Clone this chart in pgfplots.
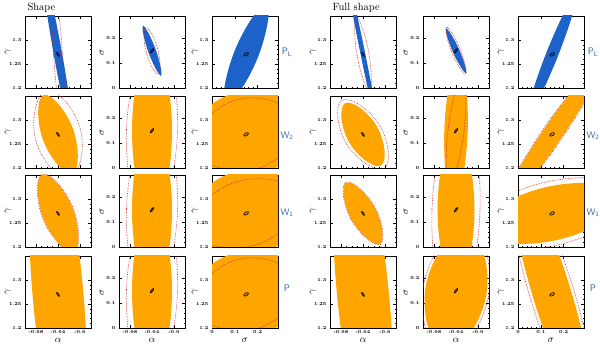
\documentclass[border=0pt]{standalone}
\usepackage{pgfplots}
\pgfplotsset{compat=1.18}
\usepackage{pgfplotstable}
\definecolor{pblue}{RGB}{28,98,200}
\definecolor{porange}{RGB}{255,165,0}
\definecolor{pred}{RGB}{205,40,40}
\definecolor{lblue}{RGB}{45,100,160}

% ellipses are given by 4 points: c+u, c+v, c-u, c-v (u, v conjugate semi-axes)
\pgfplotstableread{
x y
-0.642399 1.273925
-0.641191 1.269044
-0.637601 1.266075
-0.638809 1.270956
}\blkag
\pgfplotstableread{
x y
-0.637393 0.158249
-0.641191 0.151848
-0.642607 0.141751
-0.638809 0.148152
}\blkas
\pgfplotstableread{
x y
0.159894 1.272708
0.147144 1.272345
0.140106 1.267292
0.152856 1.267655
}\blksg
\pgfplotstableread{
x y
-0.64 0.5125
-0.676364 0.15
-0.64 -0.2125
-0.603636 0.15
}\oras
\pgfplotstableread{
x y
-0.633655 0.552532
-0.686335 0.153585
-0.646345 -0.252532
-0.593665 0.146415
}\redas
\pgfplotstableread{
x y
0.425871 1.305046
0.101104 1.356529
-0.125871 1.234954
0.198896 1.183471
}\orsg
\pgfplotstableread{
x y
0.379178 1.299114
0.109062 1.342441
-0.079178 1.240886
0.190938 1.197559
}\redsg

\pgfplotsset{
  panel/.style={width=66pt, height=72pt, scale only axis, anchor=south west,
    axis line style={line width=0.8pt}, tick align=inside,
    major tick length=2.6pt, minor tick length=1.4pt,
    every tick/.style={black, line width=0.5pt},
    ticklabel style={font=\fontsize{4.6}{5.5}\selectfont\bfseries},
    xticklabel style={yshift=1pt},
    /pgf/number format/assume math mode=true,
    label style={font=\fontsize{7.5}{8}\selectfont\boldmath},
    every axis y label/.style={at={(rel axis cs:0,0.5)}, xshift=-17pt, rotate=90, anchor=center},
    every axis x label/.style={at={(rel axis cs:0.5,0)}, yshift=-12pt, anchor=center}},
  ag/.style={xmin=-0.70, xmax=-0.58, ymin=1.2, ymax=1.35,
    xtick={-0.68,-0.64,-0.6}, minor x tick num=3,
    ytick={1.2,1.25,1.3}, minor y tick num=4, ylabel={$\gamma$}, xlabel={$\alpha$}},
  as/.style={xmin=-0.70, xmax=-0.58, ymin=0, ymax=0.29,
    xtick={-0.68,-0.64,-0.6}, minor x tick num=3,
    ytick={0,0.1,0.2}, minor y tick num=4, ylabel={$\sigma$}, xlabel={$\alpha$}},
  sg/.style={xmin=0, xmax=0.29, ymin=1.2, ymax=1.35,
    xtick={0,0.1,0.2}, minor x tick num=4,
    ytick={1.2,1.25,1.3}, minor y tick num=4, ylabel={$\gamma$}, xlabel={$\sigma$}},
  nox/.style={xticklabels={}, xlabel={}},
  fB/.style={fill=pblue, draw=none, smooth cycle, tension=0.83},
  fO/.style={fill=porange, draw=none, smooth cycle, tension=0.83},
  rD/.style={draw=pred, densely dotted, line width=0.65pt, smooth cycle, tension=0.83},
  bk/.style={draw=black, line width=0.7pt, smooth cycle, tension=0.83},
}

\begin{document}
\begin{tikzpicture}
\useasboundingbox (0,0) rectangle (600pt,343pt);
\node[anchor=base west, font=\fontsize{10.5}{11}\selectfont] at (24pt,332pt) {Shape};
\node[anchor=base west, font=\fontsize{10.5}{11}\selectfont] at (329pt,332pt) {Full shape};
\foreach \xx in {287pt,593pt} {
  \node[font=\sffamily\fontsize{9.5}{10}\selectfont, text=lblue] at (\xx,291pt) {P\textsubscript{L}};
  \node[font=\sffamily\fontsize{9.5}{10}\selectfont, text=lblue] at (\xx,207pt) {W\textsubscript{2}};
  \node[font=\sffamily\fontsize{9.5}{10}\selectfont, text=lblue] at (\xx,130pt) {W\textsubscript{1}};
  \node[font=\sffamily\fontsize{9.5}{10}\selectfont, text=lblue] at (\xx,55pt) {P};
}

% ---------------- Shape, row P_L
\begin{axis}[panel, ag, nox, at={(25pt,255pt)}]
\addplot[fB] coordinates {(-0.672200,1.475040) (-0.647516,1.268450) (-0.607800,1.064960) (-0.632484,1.271550)};
\addplot[rD] coordinates {(-0.650150,1.436250) (-0.648160,1.269350) (-0.629850,1.103750) (-0.631840,1.270650)};
\addplot[bk] table {\blkag};
\end{axis}
\begin{axis}[panel, as, nox, at={(119pt,255pt)}]
\addplot[fB] coordinates {(-0.656382,0.250808) (-0.646672,0.144680) (-0.623618,0.049192) (-0.633328,0.155320)};
\addplot[rD] coordinates {(-0.651295,0.243373) (-0.650538,0.143745) (-0.628705,0.056627) (-0.629462,0.156255)};
\addplot[bk] table {\blkas};
\end{axis}
\begin{axis}[panel, sg, nox, at={(212pt,255pt)}]
\addplot[fB] coordinates {(0.241305,1.376083) (0.101179,1.279446) (0.058695,1.163917) (0.198821,1.260554)};
\addplot[bk] table {\blksg};
\end{axis}

% ---------------- Shape, row W_2
\begin{axis}[panel, ag, nox, at={(25pt,175pt)}]
\addplot[fO] coordinates {(-0.666117,1.352223) (-0.667336,1.258600) (-0.613883,1.187777) (-0.612664,1.281400)};
\addplot[rD] coordinates {(-0.661177,1.360552) (-0.680393,1.257598) (-0.618823,1.179448) (-0.599607,1.282402)};
\addplot[bk] table {\blkag};
\end{axis}
\begin{axis}[panel, as, nox, at={(119pt,175pt)}]
\addplot[fO] table {\oras};
\addplot[rD] table {\redas};
\addplot[bk] table {\blkas};
\end{axis}
\begin{axis}[panel, sg, nox, at={(212pt,175pt)}]
\addplot[fO] table {\orsg};
\addplot[rD] table {\redsg};
\addplot[bk] table {\blksg};
\end{axis}

% ---------------- Shape, row W_1
\begin{axis}[panel, ag, nox, at={(25pt,96pt)}]
\addplot[fO] coordinates {(-0.668606,1.351129) (-0.666131,1.257904) (-0.611394,1.188871) (-0.613869,1.282096)};
\addplot[rD] coordinates {(-0.668947,1.352096) (-0.666973,1.257513) (-0.611053,1.187904) (-0.613027,1.282487)};
\addplot[bk] table {\blkag};
\end{axis}
\begin{axis}[panel, as, nox, at={(119pt,96pt)}]
\addplot[fO] table {\oras};
\addplot[rD] table {\redas};
\addplot[bk] table {\blkas};
\end{axis}
\begin{axis}[panel, sg, nox, at={(212pt,96pt)}]
\addplot[fO] table {\orsg};
\addplot[rD] coordinates {(0.393708,1.305331) (0.107603,1.335746) (-0.093708,1.234669) (0.192397,1.204254)};
\addplot[bk] table {\blksg};
\end{axis}

% ---------------- Shape, row P
\begin{axis}[panel, ag, at={(25pt,15pt)}]
\addplot[fO] coordinates {(-0.671695,1.685080) (-0.686006,1.265388) (-0.608305,0.854920) (-0.593994,1.274612)};
\addplot[bk] table {\blkag};
\end{axis}
\begin{axis}[panel, as, at={(119pt,15pt)}]
\addplot[fO] table {\oras};
\addplot[rD] table {\redas};
\addplot[bk] table {\blkas};
\end{axis}
\begin{axis}[panel, sg, at={(212pt,15pt)}]
\addplot[fO] table {\orsg};
\addplot[rD] table {\redsg};
\addplot[bk] table {\blksg};
\end{axis}

% ---------------- Full shape, row P_L
\begin{axis}[panel, ag, nox, at={(330pt,255pt)}]
\addplot[fB] coordinates {(-0.676255,1.474146) (-0.644100,1.268500) (-0.603745,1.065854) (-0.635900,1.271500)};
\addplot[rD] coordinates {(-0.651998,1.347963) (-0.650744,1.267829) (-0.628002,1.192037) (-0.629256,1.272171)};
\addplot[bk] table {\blkag};
\end{axis}
\begin{axis}[panel, as, nox, at={(423pt,255pt)}]
\addplot[fB] coordinates {(-0.658191,0.240513) (-0.645647,0.144430) (-0.621809,0.059487) (-0.634353,0.155570)};
\addplot[rD] coordinates {(-0.657367,0.245231) (-0.647586,0.143210) (-0.622633,0.054769) (-0.632414,0.156790)};
\addplot[bk] table {\blkas};
\end{axis}
\begin{axis}[panel, sg, nox, at={(518pt,255pt)}]
\addplot[fB] coordinates {(0.263711,1.405494) (0.125505,1.274621) (0.036289,1.134506) (0.174495,1.265379)};
\addplot[bk] table {\blksg};
\end{axis}

% ---------------- Full shape, row W_2
\begin{axis}[panel, ag, nox, at={(330pt,175pt)}]
\addplot[fO] coordinates {(-0.672727,1.334952) (-0.665193,1.253333) (-0.607273,1.205048) (-0.614807,1.286667)};
\addplot[rD] coordinates {(-0.678538,1.340671) (-0.669295,1.249025) (-0.601462,1.199329) (-0.610705,1.290975)};
\addplot[bk] table {\blkag};
\end{axis}
\begin{axis}[panel, as, nox, at={(423pt,175pt)}]
\addplot[fO] coordinates {(-0.635241,0.451898) (-0.661260,0.151645) (-0.644759,-0.151898) (-0.618740,0.148355)};
\addplot[rD] coordinates {(-0.627813,0.369878) (-0.654437,0.153927) (-0.652187,-0.069878) (-0.625563,0.146073)};
\addplot[bk] table {\blkas};
\end{axis}
\begin{axis}[panel, sg, nox, at={(518pt,175pt)}]
\addplot[fO] coordinates {(0.397596,1.442104) (0.115152,1.281271) (-0.097596,1.097896) (0.184848,1.258729)};
\addplot[rD] coordinates {(0.397596,1.442104) (0.112977,1.281975) (-0.097596,1.097896) (0.187023,1.258025)};
\addplot[bk] table {\blksg};
\end{axis}

% ---------------- Full shape, row W_1
\begin{axis}[panel, ag, nox, at={(330pt,96pt)}]
\addplot[fO] coordinates {(-0.670851,1.333773) (-0.660673,1.256870) (-0.609149,1.206227) (-0.619327,1.283130)};
\addplot[rD] coordinates {(-0.671291,1.334683) (-0.661309,1.256467) (-0.608709,1.205317) (-0.618691,1.283533)};
\addplot[bk] table {\blkag};
\end{axis}
\begin{axis}[panel, as, nox, at={(423pt,96pt)}]
\addplot[fO] coordinates {(-0.64,0.47222) (-0.673636,0.15) (-0.64,-0.17222) (-0.606364,0.15)};
\addplot[rD] coordinates {(-0.633020,0.592775) (-0.683609,0.153374) (-0.646980,-0.292775) (-0.596391,0.146626)};
\addplot[bk] table {\blkas};
\end{axis}
\begin{axis}[panel, sg, nox, at={(518pt,96pt)}]
\addplot[fO] coordinates {(0.492505,1.307492) (0.123313,1.324808) (-0.192505,1.232508) (0.176687,1.215192)};
\addplot[rD] coordinates {(0.535315,1.312179) (0.118372,1.334958) (-0.235315,1.227821) (0.181628,1.205042)};
\addplot[bk] table {\blksg};
\end{axis}

% ---------------- Full shape, row P
\begin{axis}[panel, ag, at={(330pt,15pt)}]
\addplot[fO] coordinates {(-0.674855,1.684750) (-0.686875,1.264828) (-0.605145,0.855250) (-0.593125,1.275172)};
\addplot[bk] table {\blkag};
\end{axis}
\begin{axis}[panel, as, at={(423pt,15pt)}]
\addplot[fO] coordinates {(-0.619456,0.395541) (-0.694704,0.172461) (-0.660544,-0.095541) (-0.585296,0.127539)};
\addplot[rD] coordinates {(-0.618131,0.411384) (-0.698994,0.174223) (-0.661869,-0.111384) (-0.581006,0.125777)};
\addplot[bk] table {\blkas};
\end{axis}
\begin{axis}[panel, sg, at={(518pt,15pt)}]
\addplot[fO] coordinates {(-0.042699,1.568843) (0.069745,1.258366) (0.342699,0.971157) (0.230255,1.281634)};
\addplot[rD] coordinates {(-0.042699,1.568843) (0.057557,1.256600) (0.342699,0.971157) (0.242443,1.283400)};
\addplot[bk] table {\blksg};
\end{axis}
\end{tikzpicture}
\end{document}
